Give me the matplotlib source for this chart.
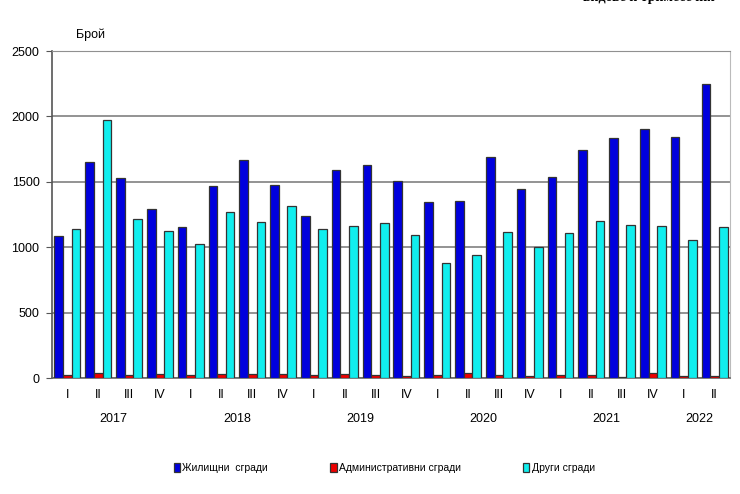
import numpy as np
import matplotlib
matplotlib.use("Agg")
import matplotlib.pyplot as plt

plt.rcParams["font.family"] = ["Liberation Sans", "DejaVu Sans"]

# Quarterly data 2017 Q1 .. 2022 Q2
quarters = ["I", "II", "III", "IV"] * 5 + ["I", "II"]
years = ["2017", "2018", "2019", "2020", "2021", "2022"]
residential = [1086, 1651, 1529, 1292, 1154, 1468, 1667, 1475,
               1239, 1590, 1631, 1509, 1348, 1356, 1692, 1445,
               1539, 1741, 1837, 1904, 1845, 2245]
administrative = [20, 40, 25, 30, 20, 30, 30, 30,
                  20, 30, 25, 15, 25, 35, 25, 15,
                  25, 25, 5, 35, 15, 15]
other = [1139, 1972, 1216, 1124, 1024, 1269, 1193, 1315,
         1141, 1165, 1183, 1093, 882, 938, 1116, 1001,
         1108, 1203, 1172, 1165, 1058, 1157]
series_names = ["Жилищни  сгради", "Административни сгради", "Други сгради"]

C_BLUE = "#0000dd"
C_RED = "#ee0000"
C_CYAN = "#11eeee"

fig = plt.figure(figsize=(7.4, 4.94), dpi=100)
ax = fig.add_axes([52 / 740, 1 - 378 / 494, 678 / 740, 327 / 494])

xs = np.arange(len(quarters))
w = 0.28
kw = dict(width=w, edgecolor="#333333", linewidth=0.9, zorder=3)
ax.bar(xs - w, residential, color=C_BLUE, label=series_names[0], **kw)
ax.bar(xs, administrative, color=C_RED, label=series_names[1], **kw)
ax.bar(xs + w, other, color=C_CYAN, label=series_names[2], **kw)

ax.set_xlim(-0.5, len(quarters) - 0.5)
ax.set_ylim(0, 2500)
ax.set_yticks(np.arange(0, 2501, 500))
ax.yaxis.grid(True, color="#808080", linewidth=1.2, zorder=0)
ax.set_axisbelow(True)
ax.tick_params(axis="y", labelsize=9, length=4, color="#555555", pad=5)
ax.tick_params(axis="x", length=0, labelsize=9, pad=8)
ax.set_xticks(xs)
ax.set_xticklabels(quarters)

ax.spines["left"].set_color("#555555")
ax.spines["left"].set_linewidth(1.2)
ax.spines["bottom"].set_color("#666666")
ax.spines["bottom"].set_linewidth(1.2)
ax.spines["right"].set_color("#bbbbbb")
ax.spines["top"].set_color("#909090")

# year labels under each group of quarters
starts = [0, 4, 8, 12, 16, 20]
for yr, s in zip(years, starts):
    n = min(4, len(quarters) - s)
    ax.text(s + (n - 1) / 2, -0.125, yr, transform=ax.get_xaxis_transform(),
            ha="center", va="center", fontsize=9)

ax.text(0.035, 1.05, "Брой", transform=ax.transAxes, fontsize=9,
        ha="left", va="center")

fig.text(715 / 740, 1.005, "видове и тримесечия", ha="right", va="center",
         fontsize=10, weight="bold", family="Liberation Serif")

leg = ax.legend(loc="center", bbox_to_anchor=(0.49, -0.275), ncol=3,
                frameon=False, fontsize=7.5, handlelength=0.6, handleheight=0.9,
                handletextpad=0.2, columnspacing=6.0)

fig.savefig("out.png", dpi=100)
